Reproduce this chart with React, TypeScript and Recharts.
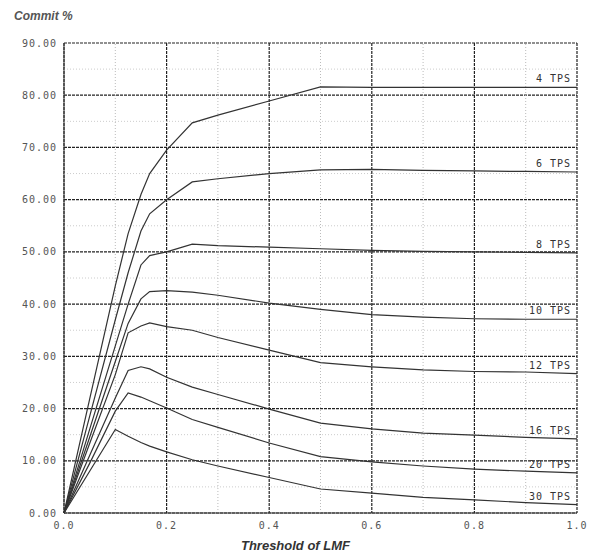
import {
  LineChart,
  Line,
  XAxis,
  YAxis,
  CartesianGrid,
  ReferenceLine,
} from 'recharts';

const thresholds = [0, 0.05, 0.1, 0.125, 0.15, 0.167, 0.2, 0.25, 0.3, 0.4, 0.5, 0.6, 0.7, 0.8, 0.9, 1.0];

const tps4 = [0, 21.8, 43.5, 53.5, 61, 65, 69.5, 74.7, 76.2, 78.9, 81.6, 81.5, 81.5, 81.5, 81.5, 81.5];
const tps6 = [0, 18.5, 37, 46, 54, 57.3, 60, 63.4, 64, 65, 65.7, 65.8, 65.6, 65.5, 65.4, 65.3];
const tps8 = [0, 16, 32, 40, 47.5, 49.3, 50, 51.5, 51.2, 50.9, 50.6, 50.3, 50.1, 50, 49.9, 49.8];
const tps10 = [0, 14.5, 29, 36.3, 41, 42.4, 42.6, 42.3, 41.7, 40.2, 39, 38, 37.5, 37.2, 37.1, 37.1];
const tps12 = [0, 13.3, 26.5, 34.5, 35.8, 36.4, 35.7, 35, 33.6, 31.2, 28.8, 28, 27.4, 27.1, 27, 26.7];
const tps16 = [0, 11, 22, 27.3, 28, 27.6, 26, 24.1, 22.7, 19.9, 17.2, 16.1, 15.3, 14.9, 14.5, 14.2];
const tps20 = [0, 9.5, 19.5, 23, 22.2, 21.5, 20.1, 17.9, 16.4, 13.4, 10.8, 9.8, 9, 8.4, 8, 7.7];
const tps30 = [0, 8, 16, 14.7, 13.5, 12.8, 11.7, 10.2, 9, 6.8, 4.6, 3.8, 3, 2.5, 2, 1.6];

const seriesNames = ['4 TPS', '6 TPS', '8 TPS', '10 TPS', '12 TPS', '16 TPS', '20 TPS', '30 TPS'];
const seriesValues = [tps4, tps6, tps8, tps10, tps12, tps16, tps20, tps30];

const xTicks = [0, 0.2, 0.4, 0.6, 0.8, 1.0];
const yTicks = [0, 10, 20, 30, 40, 50, 60, 70, 80, 90];
const xMinor = [0.1, 0.3, 0.5, 0.7, 0.9];
const yMinor = [5, 15, 25, 35, 45, 55, 65, 75, 85];

const data = thresholds.map((t, i) => {
  const row: Record<string, number> = { x: t };
  seriesNames.forEach((name, s) => {
    row[name] = seriesValues[s][i];
  });
  return row;
});

const tickFont = {
  fill: '#555',
  fontSize: 10,
  fontFamily: '"DejaVu Sans Mono", monospace',
  letterSpacing: 1,
};

function endLabel(name: string) {
  return (props: any) => {
    const { x, y, index } = props;
    if (index !== thresholds.length - 1) return null;
    return (
      <text
        x={x - 6}
        y={y - 5}
        textAnchor="end"
        fontSize={10}
        fontFamily='"DejaVu Sans Mono", monospace'
        letterSpacing={1}
        fill="#333"
      >
        {name}
      </text>
    );
  };
}

export default function App() {
  return (
    <div
      style={{
        position: 'absolute',
        left: 0,
        top: 0,
        width: 596,
        height: 554,
        background: '#fff',
      }}
    >
      <div
        style={{
          position: 'absolute',
          left: 14,
          top: 9,
          fontFamily: 'Arial, "Liberation Sans", sans-serif',
          fontSize: 12,
          fontWeight: 'bold',
          fontStyle: 'italic',
          color: '#555',
        }}
      >
        Commit %
      </div>
      <LineChart
        width={596}
        height={554}
        data={data}
        margin={{ top: 43, right: 19, bottom: 0, left: 0 }}
      >
        {xMinor.map((v) => (
          <ReferenceLine key={'vx' + v} x={v} stroke="#bbb" strokeDasharray="1 2" />
        ))}
        {yMinor.map((v) => (
          <ReferenceLine key={'hy' + v} y={v} stroke="#ccc" strokeDasharray="1 2" />
        ))}
        <CartesianGrid stroke="#222" strokeWidth={1.2} strokeDasharray="3 1" />
        <XAxis
          dataKey="x"
          type="number"
          domain={[0, 1]}
          ticks={xTicks}
          tickFormatter={(v) => v.toFixed(1)}
          height={41}
          tick={tickFont}
          tickSize={5}
          tickMargin={4}
          tickLine={false}
          axisLine={{ stroke: '#333' }}
          label={{
            value: 'Threshold of LMF',
            position: 'insideBottom',
            offset: 4,
            dx: -25,
            style: {
              fontFamily: 'Arial, "Liberation Sans", sans-serif',
              fontSize: 13,
              fontWeight: 'bold',
              fontStyle: 'italic',
              fill: '#333',
            },
          }}
        />
        <YAxis
          type="number"
          domain={[0, 90]}
          ticks={yTicks}
          tickFormatter={(v) => v.toFixed(2)}
          width={64}
          tick={tickFont}
          tickSize={4}
          tickMargin={3}
          tickLine={false}
          axisLine={{ stroke: '#333' }}
        />
        {seriesNames.map((name) => (
          <Line
            key={name}
            type="linear"
            dataKey={name}
            stroke="#333"
            strokeWidth={1.2}
            dot={false}
            activeDot={false}
            isAnimationActive={false}
            label={endLabel(name)}
          />
        ))}
      </LineChart>
    </div>
  );
}
